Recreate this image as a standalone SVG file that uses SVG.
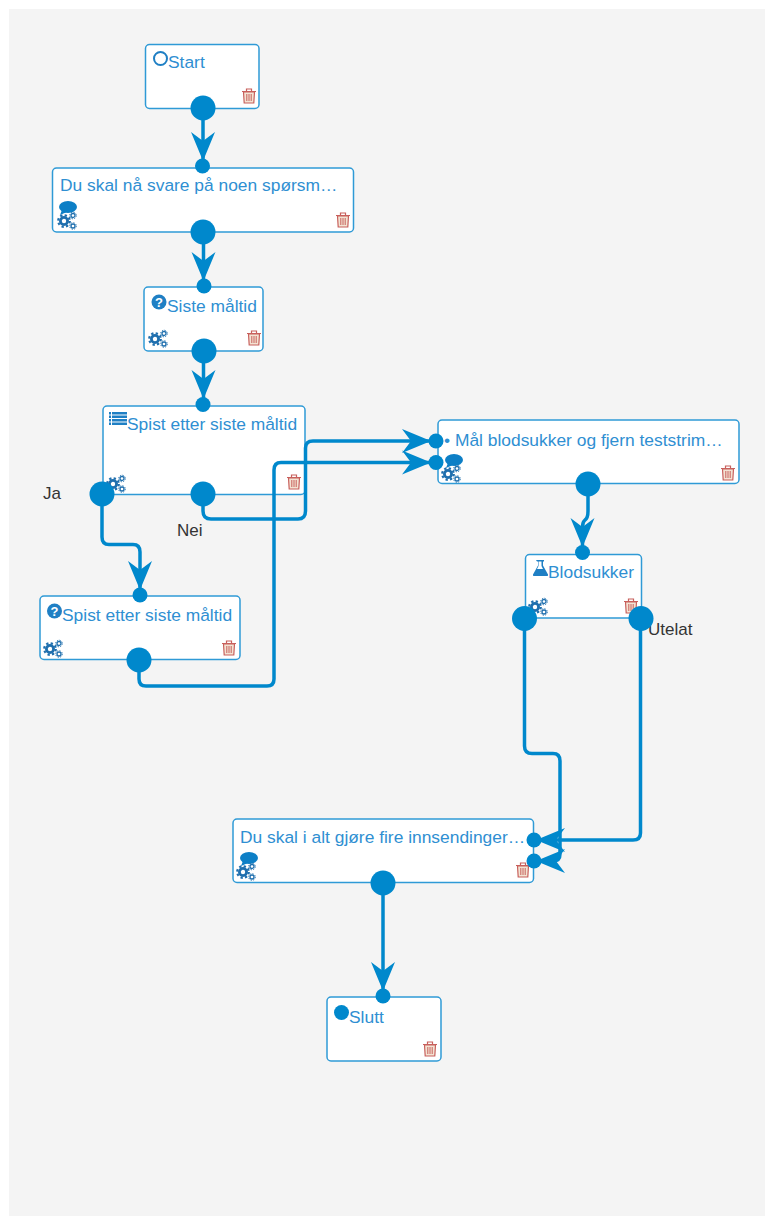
<svg xmlns="http://www.w3.org/2000/svg" xmlns:xlink="http://www.w3.org/1999/xlink" width="765" height="1216" viewBox="0 0 765 1216">
<style>
.box{fill:#fff;stroke:#2f9ad6;stroke-width:1.5}
.t{font:17.4px "Liberation Sans",Arial,sans-serif;fill:#2f8fd2}
.lab{font:17px "Liberation Sans",Arial,sans-serif;fill:#333}
.c{fill:none;stroke:#0088cc;stroke-width:3.5;marker-end:url(#arr)}
.big,.small{fill:#0088cc}
.ic{fill:#1f7fc4}
.q{font:bold 13px "Liberation Sans",Arial,sans-serif;fill:#fff;text-anchor:middle}
</style>
<defs>
<marker id="arr" markerUnits="userSpaceOnUse" markerWidth="32" markerHeight="28" refX="29" refY="12.500" orient="auto" overflow="visible">
<path d="M0 0.500L29 12.500L0 24.500L9 12.500Z" fill="#0088cc"/>
</marker>
<g id="trash" fill="#f3e3d3" stroke="#c8605c" stroke-width="1.2">
<path d="M-5.500 -4H5.500L4.800 7H-4.800Z"/>
<path d="M-7 -4.500H7M-2.500 -5V-7H2.500V-5" fill="none"/>
<path d="M-2.200 -2V5M0 -2V5M2.200 -2V5" stroke-width="1"/>
</g>
<g id="gear" fill="none" stroke="#1f6fae">
<circle cx="-3" cy="1" r="3.600" stroke-width="2.800"/>
<circle cx="-3" cy="1" r="5.800" stroke-width="2.200" stroke-dasharray="2.300 2.250"/>
<circle cx="6" cy="-4.500" r="2" stroke-width="1.300"/>
<circle cx="6" cy="-4.500" r="3.300" stroke-width="1" stroke-dasharray="1.300 1.300"/>
<circle cx="6" cy="6" r="2" stroke-width="1.300"/>
<circle cx="6" cy="6" r="3.300" stroke-width="1" stroke-dasharray="1.300 1.300"/>
</g>
<g id="bubble" fill="#0d7fc6">
<ellipse cx="0" cy="0" rx="9" ry="6"/>
<path d="M-6 3L-8 8L-1 5Z"/>
</g>
</defs>
<rect width="765" height="1216" fill="#fff"/>
<rect x="9" y="9" width="756" height="1207" fill="#f4f4f4"/>

<g id="node-start">
<rect class="box" x="145.500" y="44.500" width="113.500" height="64" rx="4"/>
<circle cx="160.500" cy="58.500" r="6.500" fill="none" stroke="#1f7fc4" stroke-width="2"/>
<text class="t" x="168" y="68">Start</text>
<use href="#trash" x="249" y="96"/>
</g>
<g id="node-intro">
<rect class="box" x="52.500" y="168" width="301" height="64" rx="4"/>
<text class="t" x="60" y="191">Du skal nå svare på noen spørsm…</text>
<use href="#bubble" x="68" y="207"/>
<use href="#gear" x="67" y="220"/>
<use href="#trash" x="343" y="220"/>
</g>
<g id="node-siste">
<rect class="box" x="144" y="287" width="119" height="64" rx="4"/>
<circle cx="159" cy="302" r="7.500" class="ic"/>
<text class="q" x="159" y="306.500">?</text>
<text class="t" x="167" y="312">Siste måltid</text>
<use href="#gear" x="158" y="338"/>
<use href="#trash" x="254" y="338"/>
</g>
<g id="node-list">
<rect class="box" x="103" y="406" width="202" height="88.500" rx="4"/>
<path class="ic" d="M109 412h2v2.500h-2zM112 412h15v2.500h-15zM109 415.500h2v2.500h-2zM112 415.500h15v2.500h-15zM109 419h2v2.500h-2zM112 419h15v2.500h-15zM109 422.500h2v2.500h-2zM112 422.500h15v2.500h-15z"/>
<text class="t" x="127" y="430">Spist etter siste måltid</text>
<use href="#gear" x="116" y="483"/>
<use href="#trash" x="294" y="482"/>
</g>
<g id="node-spist">
<rect class="box" x="40" y="596" width="200" height="63.500" rx="4"/>
<circle cx="54.500" cy="611" r="7.500" class="ic"/>
<text class="q" x="54.500" y="615.500">?</text>
<text class="t" x="62" y="621">Spist etter siste måltid</text>
<use href="#gear" x="53" y="648"/>
<use href="#trash" x="229" y="648"/>
</g>
<g id="node-maal">
<rect class="box" x="438" y="420" width="301" height="63.500" rx="4"/>
<text class="t" x="444" y="446">• Mål blodsukker og fjern teststrim…</text>
<use href="#bubble" x="454" y="460"/>
<use href="#gear" x="451" y="473"/>
<use href="#trash" x="728" y="473"/>
</g>
<g id="node-blodsukker">
<rect class="box" x="525.500" y="554.500" width="116" height="63.500" rx="4"/>
<path class="ic" d="M536 560h8v1.500h-1v4l5 9q0.500 1.500 -1 1.500h-13q-1.500 0 -1 -1.500l5 -9v-4h-1zM538.500 561.500v4.500l-1.500 3h6l-1.500 -3v-4.500z" fill-rule="evenodd"/>
<text class="t" x="548" y="578">Blodsukker</text>
<use href="#gear" x="538" y="606"/>
<use href="#trash" x="631" y="606"/>
</g>
<g id="node-fire">
<rect class="box" x="233" y="819" width="300.500" height="63.500" rx="4"/>
<text class="t" x="240" y="843">Du skal i alt gjøre fire innsendinger…</text>
<use href="#bubble" x="249" y="858"/>
<use href="#gear" x="246" y="871"/>
<use href="#trash" x="523" y="870"/>
</g>
<g id="node-slutt">
<rect class="box" x="327" y="997" width="114" height="64" rx="4"/>
<circle cx="341.500" cy="1012.500" r="7.500" fill="#0088cc"/>
<text class="t" x="349" y="1023">Slutt</text>
<use href="#trash" x="430" y="1049"/>
</g>

<text class="lab" x="43" y="499">Ja</text>
<text class="lab" x="177" y="536">Nei</text>
<text class="lab" x="648" y="635">Utelat</text>

<g id="connectors">
<path class="c" d="M203 108V161"/>
<path class="c" d="M203.500 232V281"/>
<path class="c" d="M203.500 351V399"/>
<path class="c" d="M102 494V537Q102 544.500 109 544.500H133Q140 544.500 140 552V590"/>
<path class="c" d="M203 494V511Q203 519 211 519H298Q305.500 519 305.500 511V448Q305.500 441 313 441H431"/>
<path class="c" d="M139 660V679Q139 686 146 686H267Q274 686 274 679V470Q274 462.500 281 462.500H431"/>
<path class="c" d="M588 484V511Q588 518 585 520Q582.500 522 582.500 527V547"/>
<path class="c" d="M524.500 618V746Q524.500 753.500 532 753.500H553Q560 753.500 560 761V854Q560 861 553 861H536"/>
<path class="c" d="M640.500 618V833Q640.500 840 633 840H536"/>
<path class="c" d="M383 883V991"/>
</g>

<g id="ports">
<circle class="big" cx="203" cy="108" r="12.500"/>
<circle class="small" cx="202.500" cy="166" r="7.500"/>
<circle class="big" cx="203" cy="232" r="12.500"/>
<circle class="small" cx="204" cy="286" r="7.500"/>
<circle class="big" cx="204" cy="351" r="12.500"/>
<circle class="small" cx="203" cy="404.500" r="7.500"/>
<circle class="big" cx="102" cy="494" r="12.500"/>
<circle class="big" cx="203" cy="494" r="12.500"/>
<circle class="small" cx="140" cy="595" r="7.500"/>
<circle class="big" cx="139" cy="660" r="12.500"/>
<circle class="small" cx="436" cy="441" r="7.500"/>
<circle class="small" cx="436" cy="462.500" r="7.500"/>
<circle class="big" cx="588" cy="484" r="12.500"/>
<circle class="small" cx="582.500" cy="552.500" r="7.500"/>
<circle class="big" cx="524.500" cy="618.500" r="12.500"/>
<circle class="big" cx="641" cy="618.500" r="12.500"/>
<circle class="small" cx="534" cy="840" r="7.500"/>
<circle class="small" cx="534" cy="861" r="7.500"/>
<circle class="big" cx="383" cy="883" r="12.500"/>
<circle class="small" cx="383" cy="996" r="7.500"/>
</g>
</svg>
